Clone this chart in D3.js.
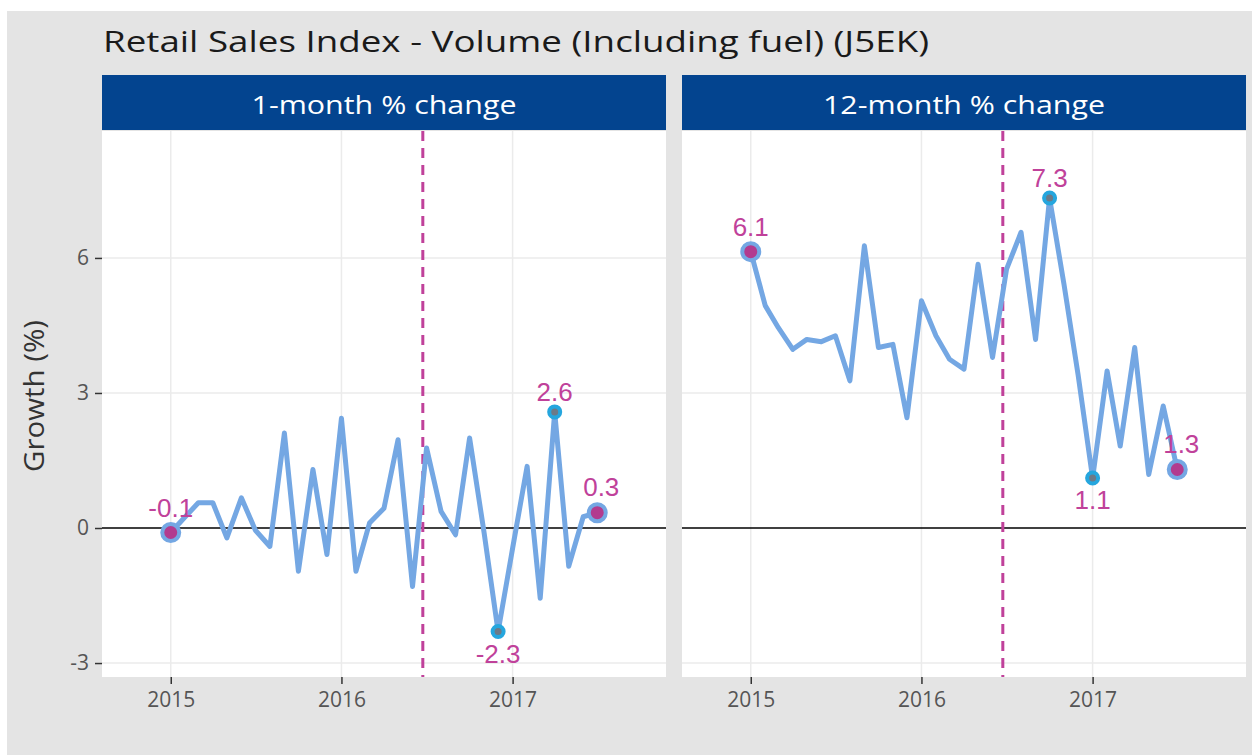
<!DOCTYPE html>
<html lang="en">

<head>
    <meta charset="UTF-8">
    <title>Retail Sales Index</title>
    <script src="https://cdn.jsdelivr.net/npm/d3@7"></script>
    <style>
        body { margin: 0; background: #fff; }
    </style>
</head>

<body>
    <svg width="1252" height="755" id="mainsvg"></svg>
    <script>
        // monthly data, Jan 2015 .. Jul 2017
        const months = ["2015-01", "2015-02", "2015-03", "2015-04", "2015-05", "2015-06", "2015-07", "2015-08",
            "2015-09", "2015-10", "2015-11", "2015-12", "2016-01", "2016-02", "2016-03", "2016-04", "2016-05",
            "2016-06", "2016-07", "2016-08", "2016-09", "2016-10", "2016-11", "2016-12", "2017-01", "2017-02",
            "2017-03", "2017-04", "2017-05", "2017-06", "2017-07"];
        const oneMonth = [-0.1, 0.25, 0.56, 0.56, -0.22, 0.67, -0.05, -0.41, 2.11, -0.96, 1.30, -0.59, 2.44, -0.96,
            0.11, 0.44, 1.96, -1.30, 1.78, 0.37, -0.15, 2.0, -0.1, -2.3, -0.45, 1.37, -1.56, 2.58, -0.85, 0.25, 0.34];
        const twelveMonth = [6.14, 4.94, 4.45, 3.97, 4.19, 4.14, 4.27, 3.27, 6.27, 4.01, 4.08, 2.45, 5.05, 4.27,
            3.75, 3.53, 5.86, 3.79, 5.75, 6.57, 4.19, 7.33, 5.4, 3.4, 1.11, 3.49, 1.82, 4.01, 1.19, 2.71, 1.30];
        const panelTitles = ["1-month % change", "12-month % change"];
        const yTicks = [-3, 0, 3, 6];
        const xTicks = ["2015-01", "2016-01", "2017-01"];
        const eventDate = "2016-06-23";

        const svg = d3.select('#mainsvg');
        const parseM = d3.timeParse('%Y-%m');
        const parseD = d3.timeParse('%Y-%m-%d');
        const lineColor = '#74a7e3';
        const pink = '#c0419a';
        const labelFont = '"Liberation Sans", Arial, sans-serif';
        const mainFont = '"Open Sans", Lato, sans-serif';
        const hyphen = s => s.replace('\u2212', '-');

        // background
        svg.append('rect').attr('x', 7).attr('y', 11).attr('width', 1245).attr('height', 744).attr('fill', '#e4e4e4');

        svg.append('text').attr('x', 103).attr('y', 52)
            .attr('font-family', mainFont).attr('font-size', 29).attr('fill', '#1a1a1a')
            .attr('textLength', 826).attr('lengthAdjust', 'spacingAndGlyphs')
            .text('Retail Sales Index - Volume (Including fuel) (J5EK)');

        const panelW = 564, panelTop = 131, panelBottom = 677;
        const panelX = [102, 682];

        const xScale = d3.scaleTime()
            .domain([parseD('2014-08-07'), parseD('2017-11-25')])
            .range([0, panelW]);
        const yScale = d3.scaleLinear()
            .domain([-3.31, 8.82])
            .range([panelBottom, panelTop]);

        const series = [oneMonth, twelveMonth];
        const stripLen = [265, 282];

        series.forEach((vals, p) => {
            const data = months.map((m, i) => ({ date: parseM(m), value: vals[i] }));
            const g = svg.append('g').attr('transform', `translate(${panelX[p]}, 0)`);

            // strip
            g.append('rect').attr('x', 0).attr('y', 75).attr('width', panelW).attr('height', 55).attr('fill', '#03448f');
            g.append('text').attr('x', panelW / 2).attr('y', 114).attr('text-anchor', 'middle')
                .attr('font-family', mainFont).attr('font-size', 26).attr('fill', '#fff')
                .attr('textLength', stripLen[p]).attr('lengthAdjust', 'spacingAndGlyphs')
                .text(panelTitles[p]);

            g.append('rect').attr('x', 0).attr('y', panelTop).attr('width', panelW)
                .attr('height', panelBottom - panelTop).attr('fill', '#fff');

            // grid
            g.selectAll('.hgrid').data(yTicks.filter(d => d !== 0)).join('line')
                .attr('x1', 0).attr('x2', panelW)
                .attr('y1', d => yScale(d)).attr('y2', d => yScale(d))
                .attr('stroke', '#ebebeb').attr('stroke-width', 1.5);
            g.selectAll('.vgrid').data(xTicks).join('line')
                .attr('x1', d => xScale(parseM(d))).attr('x2', d => xScale(parseM(d)))
                .attr('y1', panelTop).attr('y2', panelBottom)
                .attr('stroke', '#ebebeb').attr('stroke-width', 1.5);

            // zero line
            g.append('line').attr('x1', 0).attr('x2', panelW)
                .attr('y1', yScale(0)).attr('y2', yScale(0))
                .attr('stroke', '#000').attr('stroke-width', 1.3);

            // referendum line
            g.append('line')
                .attr('x1', xScale(parseD(eventDate))).attr('x2', xScale(parseD(eventDate)))
                .attr('y1', panelTop).attr('y2', panelBottom)
                .attr('stroke', pink).attr('stroke-width', 3).attr('stroke-dasharray', '10,7');

            const line = d3.line().x(d => xScale(d.date)).y(d => yScale(d.value));
            g.append('path').datum(data).attr('d', line)
                .attr('fill', 'none').attr('stroke', lineColor).attr('stroke-width', 5)
                .attr('stroke-linejoin', 'round');

            // highlighted points
            const iMax = d3.maxIndex(vals), iMin = d3.minIndex(vals);
            const ends = [0, vals.length - 1];
            const extremes = [iMax, iMin];
            g.selectAll('.extreme').data(extremes).join('circle')
                .attr('cx', i => xScale(data[i].date)).attr('cy', i => yScale(data[i].value))
                .attr('r', 5.5).attr('fill', '#6c7a88').attr('stroke', '#25a6de').attr('stroke-width', 4);
            g.selectAll('.endpt').data(ends).join('circle')
                .attr('cx', i => xScale(data[i].date)).attr('cy', i => yScale(data[i].value))
                .attr('r', 8.5).attr('fill', '#b23b8f').attr('stroke', lineColor).attr('stroke-width', 4);

            const fmt = d3.format('.1f');
            const labels = [
                { i: 0, dy: -25 }, { i: vals.length - 1, dy: -26 },
                { i: iMax, dy: -20 }, { i: iMin, dy: 22 }
            ];
            g.selectAll('.lab').data(labels).join('text')
                .attr('x', d => xScale(data[d.i].date) + (d.i === vals.length - 1 ? 4 : 0))
                .attr('y', d => yScale(data[d.i].value) + d.dy)
                .attr('dy', '0.36em')
                .attr('text-anchor', 'middle')
                .attr('font-family', labelFont).attr('font-size', 26).attr('fill', pink)
                .text(d => hyphen(fmt(data[d.i].value)));

            // x axis
            const xAxis = d3.axisBottom(xScale)
                .tickValues(xTicks.map(parseM))
                .tickFormat(d3.timeFormat('%Y'))
                .tickSize(7).tickPadding(8);
            const xg = g.append('g').attr('transform', `translate(0, ${panelBottom})`).call(xAxis);
            xg.select('.domain').remove();
            xg.selectAll('line').attr('stroke', '#333').attr('stroke-width', 1.5);
            xg.selectAll('text').attr('font-family', mainFont).attr('font-size', 21).attr('fill', '#555');

            if (p === 0) {
                const yAxis = d3.axisLeft(yScale).tickValues(yTicks).tickSize(7).tickPadding(6)
                    .tickFormat(d => hyphen(d3.format('d')(d)));
                const yg = g.append('g').call(yAxis);
                yg.select('.domain').remove();
                yg.selectAll('line').attr('stroke', '#333').attr('stroke-width', 1.5);
                yg.selectAll('text').attr('font-family', mainFont).attr('font-size', 21).attr('fill', '#555');
            }
        });

        svg.append('text')
            .attr('transform', `translate(44, ${(panelTop + panelBottom) / 2 - 8}) rotate(-90)`)
            .attr('text-anchor', 'middle')
            .attr('font-family', mainFont).attr('font-size', 27).attr('fill', '#333')
            .attr('textLength', 152).attr('lengthAdjust', 'spacingAndGlyphs')
            .text('Growth (%)');
    </script>
</body>

</html>
